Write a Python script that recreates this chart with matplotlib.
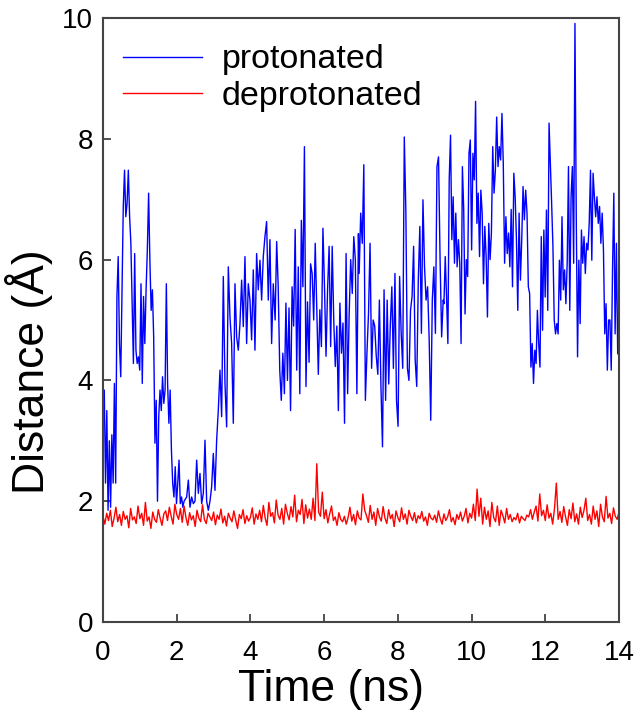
import numpy as np
import matplotlib
matplotlib.use("Agg")
import matplotlib.pyplot as plt

plt.rcParams['font.family'] = ['Liberation Sans', 'DejaVu Sans']

prot_a = [3.6, 3.84, 2.3, 3.5, 1.85, 3.0, 1.9, 3.1, 2.3, 3.95,
          2.3, 5.39, 6.05, 4.61, 4.06, 5.44, 6.88, 7.48, 6.71, 6.93,
          7.48, 6.71, 6.27, 5.27, 4.28, 6.1, 4.5, 4.28, 4.39, 4.17,
          5.6, 3.95, 5.39, 4.61, 5.5, 6.16, 7.1, 5.99, 5.16, 5.5,
          4.72, 2.96, 3.67, 2.0, 3.4, 3.84, 3.5, 4.06, 3.62, 3.84,
          5.6, 3.95, 3.29, 3.84, 2.85, 2.3, 2.07, 2.57, 1.96, 2.3,
          2.68, 1.96, 2.07, 1.9, 2.0]
prot_b = [2.07, 2.35, 1.9, 2.07, 1.96, 2.0, 2.68, 2.13, 2.46, 1.96,
          2.13, 3.01, 2.0, 1.85, 2.0, 2.24, 2.79, 2.18, 3.01, 3.51,
          4.17, 3.4, 5.72, 3.95, 3.23, 5.88, 5.05, 4.61, 3.29, 5.6,
          4.72, 4.5, 4.94, 5.66, 4.89, 6.05, 4.61, 5.6, 5.33, 4.67,
          5.83, 4.5, 6.1, 5.5, 5.99, 5.33, 6.05, 6.38, 6.63, 5.33,
          6.33, 4.61, 5.6]
prot_c = [5.0, 6.3, 5.55, 4.17, 3.67, 4.45, 3.78, 5.28, 4.0, 5.2,
          3.5, 5.55, 4.9, 6.5, 4.17, 5.88, 3.78, 6.65, 5.55, 7.87,
          3.9, 5.3, 4.3, 5.93, 5.77, 5.0, 6.27, 5.17, 4.1, 5.17,
          4.56, 6.52, 5.55, 4.4, 5.5, 6.22, 4.56, 6.22, 5.0, 4.23,
          4.9, 3.5, 5.28, 4.45, 4.95, 3.29, 6.1, 3.78, 5.1, 6.0,
          5.44, 6.38, 6.0, 3.78, 6.43]
prot_d = [5.77, 6.77, 6.27, 7.57, 3.67, 4.45, 5.1, 6.27, 4.2, 5.0,
          4.9, 4.4, 4.1, 5.33, 3.9, 2.9, 5.5, 3.67, 5.33, 3.94,
          4.9, 5.55, 4.2, 5.77, 3.67, 3.24, 5.72, 4.78, 4.2, 8.03,
          6.82, 4.2, 4.0, 5.16, 5.39, 6.22, 4.34, 3.9, 5.66, 6.55,
          4.78, 6.99, 5.88, 5.33, 5.55, 4.67, 3.34, 5.33, 5.88, 4.78,
          7.54, 7.7, 6.0, 4.72, 5.33]
prot_e = [5.27, 6.05, 5.38, 4.61, 7.32, 8.06, 6.33, 7.04, 5.94, 6.77,
          5.88, 6.33, 5.94, 4.61, 7.54, 6.83, 5.1, 6.0, 5.72, 7.76,
          7.98, 6.16, 7.76, 7.32, 8.62, 6.6, 7.1, 6.05, 7.15, 6.77,
          5.6, 6.55, 6.05, 5.05, 6.6, 6.0, 6.44, 7.87, 7.1, 7.48,
          8.36, 7.54, 7.87, 7.65, 8.42, 7.6, 5.94, 6.71, 6.1, 6.44,
          5.88, 6.83, 5.55, 7.43, 7.04, 6.33, 5.16, 6.77, 5.66, 6.33,
          7.21, 6.66, 7.15, 6.77, 5.55]
prot_f = [5.44, 4.22, 4.61, 3.95, 4.5, 4.28, 5.16, 4.61, 4.22, 6.38,
          4.83, 6.49, 5.38, 6.82, 5.16, 8.26, 7.6, 6.93, 6.21, 5.0,
          4.77, 4.94, 4.77, 5.99, 5.33, 6.71, 5.5, 5.83, 5.27, 5.94,
          7.54, 5.16, 7.04, 7.54, 5.94, 9.91, 6.71, 4.39, 5.99, 4.94,
          6.49, 5.94, 6.38, 5.77, 6.27, 6.16, 6.6, 7.48, 5.99, 7.43,
          7.04, 6.71, 7.04, 6.6, 6.88, 6.27, 6.77, 6.16, 4.77, 5.27,
          4.17, 5.0, 5.0, 4.17, 5.83, 7.1, 4.77, 6.27, 4.44, 4.5]
prot_spans = [(0.0, 2.2), (2.27, 4.62), (4.67, 6.93),
              (6.95, 9.23), (9.25, 11.54), (11.575, 14.0)]

# red trace (deprotonated), one value every 0.05 ns from 0 to 14
deprot = [1.75, 1.62, 1.80, 1.68, 1.85, 1.58, 1.72, 1.90, 1.66, 1.78, 1.60, 1.83, 1.70, 1.76, 1.56, 1.88, 1.69, 1.74, 1.63, 1.92,
          1.71, 1.80, 1.60, 1.98, 1.67, 1.74, 1.55, 1.82, 1.70, 1.65, 1.86, 1.72, 1.60, 1.79, 1.84, 1.68, 1.90, 1.75, 1.62, 1.95,
          1.78, 1.70, 1.88, 1.65, 1.92, 1.73, 1.60, 1.81, 1.69, 1.76, 1.58, 1.85, 1.72, 1.66, 1.94, 1.70, 1.63, 1.80, 1.74, 1.68,
          1.82, 1.61, 1.77, 1.70, 1.87, 1.64, 1.75, 1.59, 1.80, 1.72, 1.66, 1.84, 1.69, 1.55, 1.78, 1.71, 1.86, 1.63, 1.76, 1.67,
          1.73, 1.89, 1.62, 1.79, 1.70, 1.85, 1.66, 1.93, 1.72, 1.60, 1.98, 1.75, 1.81, 1.64, 2.02, 1.77, 1.70, 1.88, 1.62, 1.95,
          1.80, 1.69, 1.91, 1.74, 2.10, 1.66, 1.85, 1.78, 2.03, 1.63, 1.94, 1.72, 1.87, 1.70, 2.05, 1.68, 2.62, 1.82, 1.75, 2.15,
          1.71, 1.86, 1.64, 1.79, 1.92, 1.68, 1.74, 1.60, 1.81, 1.70, 1.66, 1.75, 1.62, 1.73, 1.90, 1.67, 1.78, 1.61, 1.84, 1.72,
          1.69, 2.12, 1.85, 1.76, 1.65, 1.93, 1.70, 1.82, 1.60, 1.88, 1.74, 1.67, 1.91, 1.72, 1.63, 1.86, 1.71, 1.78, 1.58, 1.84,
          1.73, 1.66, 1.89, 1.70, 1.79, 1.62, 1.85, 1.75, 1.68, 1.81, 1.64, 1.76, 1.71, 1.83, 1.67, 1.74, 1.60, 1.80, 1.72, 1.69,
          1.77, 1.65, 1.84, 1.71, 1.62, 1.79, 1.68, 1.74, 1.86, 1.66, 1.73, 1.61, 1.78, 1.70, 1.82, 1.67, 1.75, 1.88, 1.64, 1.80,
          1.72, 1.95, 1.68, 2.20, 1.75, 2.05, 1.62, 1.90, 1.70, 1.84, 1.58, 1.98, 1.73, 1.66, 1.92, 1.60, 1.85, 1.76, 1.64, 1.88,
          1.70, 1.78, 1.66, 1.73, 1.69, 1.80, 1.64, 1.75, 1.71, 1.68, 1.77, 1.74, 1.86, 1.70, 1.82, 1.92, 1.67, 2.12, 1.76, 1.85,
          1.68, 1.94, 1.72, 1.80, 1.62, 1.88, 2.30, 1.70, 1.83, 1.65, 1.91, 1.74, 1.60, 1.86, 1.71, 1.97, 1.66, 1.79, 1.62, 1.90,
          1.73, 1.85, 2.05, 1.68, 1.78, 1.62, 1.92, 1.70, 1.84, 1.58, 1.95, 1.74, 1.66, 2.08, 1.72, 1.80, 1.63, 1.89, 1.75, 1.70, 1.82]

prot_t, prot_y = [], []
for (t0, t1), seg in zip(prot_spans, [prot_a, prot_b, prot_c, prot_d, prot_e, prot_f]):
    prot_t.extend(np.linspace(t0, t1, len(seg)))
    prot_y.extend(seg)
deprot_t = np.linspace(0, 14, len(deprot))

fig = plt.figure(figsize=(6.38, 7.21), dpi=100)
ax = fig.add_axes([103 / 638, 1 - 622 / 721, 516 / 638, 604 / 721])

ax.plot(prot_t, prot_y, color='#0000ff', lw=1.0, label='protonated')
ax.plot(deprot_t, deprot, color='#ff0000', lw=1.0, label='deprotonated')

ax.set_xlim(0, 14)
ax.set_ylim(0, 10)
ax.set_xticks(range(0, 15, 2))
ax.set_yticks(range(0, 11, 2))
ax.tick_params(direction='in', length=6, width=1.2, labelsize=20,
               top=False, right=False, color='#333333')
ax.tick_params(axis='x', pad=13)
ax.tick_params(axis='y', pad=7)
for s in ax.spines.values():
    s.set_color('#444444')
    s.set_linewidth(1.5)

ax.set_xlabel('Time (ns)', fontsize=32)
ax.set_ylabel('Distance (Å)', fontsize=32)
# the axis titles sit a little off-centre in the original
ax.xaxis.set_label_coords(0.442, -0.078)
ax.yaxis.set_label_coords(-0.0965, 0.414)

ax.legend(loc='upper left', frameon=False, fontsize=24.5, handlelength=2.3,
          handletextpad=0.6, labelspacing=0.15, borderaxespad=0.2,
          bbox_to_anchor=(0.0, 0.99))

fig.savefig('out.png', dpi=100)
